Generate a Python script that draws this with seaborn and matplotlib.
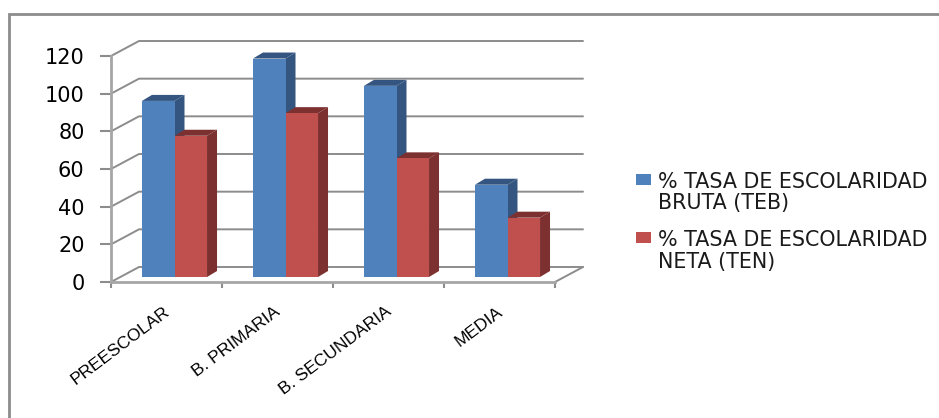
import pandas as pd
import seaborn as sns
import matplotlib.pyplot as plt
from matplotlib.patches import Polygon, Rectangle

niveles = ['PREESCOLAR', 'B. PRIMARIA', 'B. SECUNDARIA', 'MEDIA']
teb = [93.5, 116, 101.5, 49]
ten = [75, 87, 63, 31.5]
ticks_y = [0, 20, 40, 60, 80, 100, 120]
serie_teb = '% TASA DE ESCOLARIDAD\nBRUTA (TEB)'
serie_ten = '% TASA DE ESCOLARIDAD\nNETA (TEN)'

W, H = 939, 418
AZUL, AZUL_OSC = '#4F81BD', '#34557F'
ROJO, ROJO_OSC = '#C0504D', '#7C3130'
GRIS = '#8C8C8C'

data = pd.DataFrame({'nivel': niveles * 2,
                     'valor': teb + ten,
                     'serie': [serie_teb] * 4 + [serie_ten] * 4})

sns.set_theme(style='white')
plt.rcParams['font.family'] = ['DejaVu Sans']
fig = plt.figure(figsize=(W / 100, H / 100), dpi=100)


def px_axes(x0, x1, y_top, y_bottom):
    return fig.add_axes([x0 / W, 1 - y_bottom / H, (x1 - x0) / W, (y_bottom - y_top) / H])


# frame around the chart
fig.add_artist(Rectangle((8.5 / W, -0.1), 1.2, 1 - 14 / H + 0.1, transform=fig.transFigure,
                         fill=False, ec=GRIS, lw=2, clip_on=False))

# front plane: axis, ticks and labels
ax = px_axes(111, 555, 56, 282)
ax.set_xlim(-0.5, 3.5)
ax.set_ylim(0, 120)
ppx = 4 / 444          # categories per pixel
ppy = 120 / 226        # units per pixel
back_x, back_y = 28 * ppx, 15 * ppy

# back wall gridlines with the diagonal part on the side wall
for t in ticks_y:
    ax.plot([-0.5, -0.5 + back_x, 3.5 + back_x], [t, t + back_y, t + back_y],
            color=GRIS, lw=1.4, clip_on=False, zorder=1)
ax.plot([3.5, 3.5 + back_x], [0, back_y], color=GRIS, lw=1.4, clip_on=False, zorder=1)

ax.set_xticks([-0.5, 0.5, 1.5, 2.5, 3.5], labels=[])
ax.set_yticks(ticks_y)
ax.tick_params(axis='y', length=8, width=1.5, color=GRIS, labelsize=15, pad=11,
               left=True, labelcolor='black')
ax.tick_params(axis='x', length=4, width=1.5, color=GRIS, bottom=True)
sns.despine(ax=ax, top=True, right=True)
for s in ['left', 'bottom']:
    ax.spines[s].set_color('#A6A6A6')
    ax.spines[s].set_linewidth(2)
ax.patch.set_alpha(0)

for i, nivel in enumerate(niveles):
    ax.annotate(nivel, xy=(i - 0.03, 0), xytext=(0, -22), textcoords='offset pixels',
                rotation=37, rotation_mode='anchor', ha='right', va='top',
                fontsize=12.6, family='Liberation Sans', color='black')

# bars sit in the middle of the depth, 8 px right and 5 px up from the front plane
bars = px_axes(119, 563, 51, 277)
sns.barplot(data=data, x='nivel', y='valor', hue='serie', order=niveles,
            hue_order=[serie_teb, serie_ten], palette=[AZUL, ROJO], width=0.586,
            gap=0, saturation=1, ax=bars, legend=False, zorder=3, linewidth=0)
bars.set_xlim(-0.5, 3.5)
bars.set_ylim(0, 120)
bars.axis('off')

dx, dy = 10 * ppx, 6 * ppy
for n, bar in enumerate(bars.patches[:8]):
    x0, w, h = bar.get_x(), bar.get_width(), bar.get_height()
    lado = AZUL_OSC if n < 4 else ROJO_OSC
    z = 1 if n < 4 else 2
    bars.add_patch(Polygon([(x0 + w, 0), (x0 + w + dx, dy), (x0 + w + dx, h + dy), (x0 + w, h)],
                           fc=lado, ec='none', zorder=z, clip_on=False))
    bars.add_patch(Polygon([(x0, h), (x0 + dx, h + dy), (x0 + w + dx, h + dy), (x0 + w, h)],
                           fc=lado, ec='none', zorder=z, clip_on=False))

# legend drawn by hand so the text can sit like the original
for y_caja, serie, color in [(179, serie_teb, AZUL), (237.5, serie_ten, ROJO)]:
    fig.add_artist(Rectangle((636 / W, 1 - (y_caja + 5.5) / H), 15 / W, 11 / H,
                             transform=fig.transFigure, fc=color, ec='none'))
    fig.text(658 / W, 1 - (y_caja - 7.5) / H, serie, fontsize=14.9, va='top', ha='left',
             linespacing=1.1, color='#1A1A1A')

fig.savefig('out.png', dpi=100)
